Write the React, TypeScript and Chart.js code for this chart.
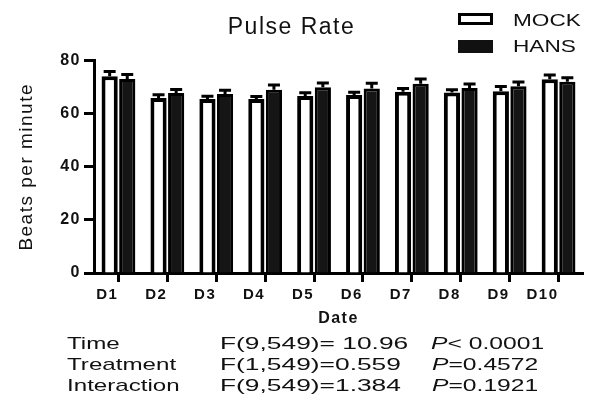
import React, { useEffect, useRef } from 'react';
import { Chart, registerables } from 'chart.js';

Chart.register(...registerables);

const categories = ['D1', 'D2', 'D3', 'D4', 'D5', 'D6', 'D7', 'D8', 'D9', 'D10'];
const mockValues = [74.1, 65.9, 65.5, 65.5, 66.7, 67.0, 68.3, 68.0, 68.5, 73.0];
const mockErrors = [1.8, 1.2, 1.1, 1.0, 1.2, 1.1, 1.2, 1.0, 1.7, 1.6];
const hansValues = [73.1, 67.8, 67.4, 69.0, 70.0, 69.5, 71.3, 69.7, 70.3, 72.0];
const hansErrors = [1.7, 1.3, 1.4, 1.8, 1.6, 2.0, 1.8, 1.5, 1.6, 1.5];
const yMin = 0;
const yMax = 80;
const yStep = 20;
const seriesNames = ['MOCK', 'HANS'];
const statLabels = ['Time', 'Treatment', 'Interaction'];
const statTests = ['F(9,549)= 10.96', 'F(1,549)=0.559', 'F(9,549)=1.384'];
const statP = ['< 0.0001', '=0.4572', '=0.1921'];

const FONT = "'Liberation Sans', Arial, Helvetica, sans-serif";

const spacingPlugin = {
  id: 'spacing',
  beforeUpdate(chart: any) {
    chart.ctx.letterSpacing = '1.5px';
  },
  beforeDraw(chart: any) {
    chart.ctx.letterSpacing = '1.5px';
  },
};

const errorBarPlugin = {
  id: 'errorBars',
  afterDatasetsDraw(chart: any) {
    const ctx = chart.ctx;
    const yScale = chart.scales.y;
    chart.data.datasets.forEach((ds: any, i: number) => {
      const meta = chart.getDatasetMeta(i);
      meta.data.forEach((bar: any, j: number) => {
        const v = ds.data[j];
        const e = ds.errors[j];
        const top = yScale.getPixelForValue(v + e);
        ctx.save();
        ctx.strokeStyle = '#000';
        ctx.lineWidth = 3;
        ctx.beginPath();
        ctx.moveTo(bar.x, bar.y);
        ctx.lineTo(bar.x, top);
        ctx.moveTo(bar.x - 6, top);
        ctx.lineTo(bar.x + 6, top);
        ctx.stroke();
        ctx.restore();
      });
    });
  },
};

export default function App() {
  const canvasRef = useRef<HTMLCanvasElement | null>(null);

  useEffect(() => {
    if (!canvasRef.current) return;
    const chart = new Chart(canvasRef.current, {
      type: 'bar',
      data: {
        labels: categories,
        datasets: [
          {
            label: seriesNames[0],
            data: mockValues,
            errors: mockErrors,
            backgroundColor: '#ffffff',
            borderColor: '#000000',
            borderWidth: 4,
          } as any,
          {
            label: seriesNames[1],
            data: hansValues,
            errors: hansErrors,
            backgroundColor: '#151515',
            borderColor: '#000000',
            borderWidth: 3,
          } as any,
        ],
      },
      options: {
        responsive: false,
        animation: false,
        devicePixelRatio: 1,
        categoryPercentage: 0.72,
        barPercentage: 0.92,
        layout: { padding: { left: 0, right: 6, top: 0, bottom: 68 } },
        plugins: {
          legend: { display: false },
          tooltip: { enabled: false },
          title: {
            display: true,
            text: 'Pulse Rate',
            color: '#111',
            font: { family: FONT, size: 23, weight: 'normal' },
            padding: { top: 14, bottom: 19 },
          },
        },
        scales: {
          x: {
            grid: {
              display: true,
              drawOnChartArea: false,
              drawTicks: true,
              offset: false,
              tickLength: 9,
              tickWidth: 3,
              tickColor: '#000',
              color: '#000',
            },
            border: { display: true, color: '#000', width: 3 },
            ticks: {
              color: '#111',
              font: { family: FONT, size: 15, weight: 'bold' },
              align: 'end',
              padding: 4,
              maxRotation: 0,
              autoSkip: false,
            },
            title: {
              display: true,
              text: 'Date',
              color: '#111',
              font: { family: FONT, size: 16, weight: 'bold' },
              padding: { top: 0, bottom: 3 },
            },
            afterFit: (s: any) => {
              s.height = 58;
            },
          },
          y: {
            min: yMin,
            max: yMax,
            ticks: {
              stepSize: yStep,
              color: '#111',
              font: { family: FONT, size: 16, weight: 'bold' },
              padding: 3,
            },
            grid: {
              display: true,
              drawOnChartArea: false,
              drawTicks: true,
              tickLength: 10,
              tickWidth: 3,
              tickColor: '#000',
              color: '#000',
            },
            border: { display: true, color: '#000', width: 3 },
            title: {
              display: true,
              text: 'Beats per minute',
              color: '#111',
              font: { family: FONT, size: 19, weight: 'normal' },
              padding: { top: 15, bottom: 0 },
            },
            afterFit: (s: any) => {
              s.width = 94;
            },
          },
        },
      } as any,
      plugins: [spacingPlugin, errorBarPlugin],
    });
    return () => chart.destroy();
  }, []);

  const textBase: React.CSSProperties = {
    position: 'absolute',
    fontFamily: FONT,
    fontSize: '17px',
    lineHeight: '20px',
    color: '#111',
    whiteSpace: 'nowrap',
    transformOrigin: 'left center',
  };

  const rowTops = [334, 355, 376];

  return (
    <div style={{ position: 'absolute', left: 0, top: 0, width: 589, height: 399, background: '#fff' }}>
      <canvas ref={canvasRef} width={589} height={399} style={{ position: 'absolute', left: 0, top: 0 }} />
      <div
        style={{
          position: 'absolute', left: 458, top: 13, width: 35, height: 12,
          boxSizing: 'border-box', border: '3px solid #000', background: '#fff',
        }}
      />
      <div
        style={{
          position: 'absolute', left: 458, top: 40, width: 35, height: 13,
          background: '#111',
        }}
      />
      <div style={{ ...textBase, left: 513, top: 11, transform: 'scaleX(1.33)' }}>{seriesNames[0]}</div>
      <div style={{ ...textBase, left: 513, top: 37, transform: 'scaleX(1.33)' }}>{seriesNames[1]}</div>
      {statLabels.map((lab, i) => (
        <React.Fragment key={lab}>
          <div style={{ ...textBase, left: 67, top: rowTops[i], transform: 'scaleX(1.42)' }}>{lab}</div>
          <div style={{ ...textBase, left: 220, top: rowTops[i], transform: 'scaleX(1.55)' }}>{statTests[i]}</div>
          <div style={{ ...textBase, left: i === 0 ? 431 : 432, top: rowTops[i], transform: 'scaleX(1.45)' }}>
            <i>P</i>
            {statP[i]}
          </div>
        </React.Fragment>
      ))}
    </div>
  );
}
